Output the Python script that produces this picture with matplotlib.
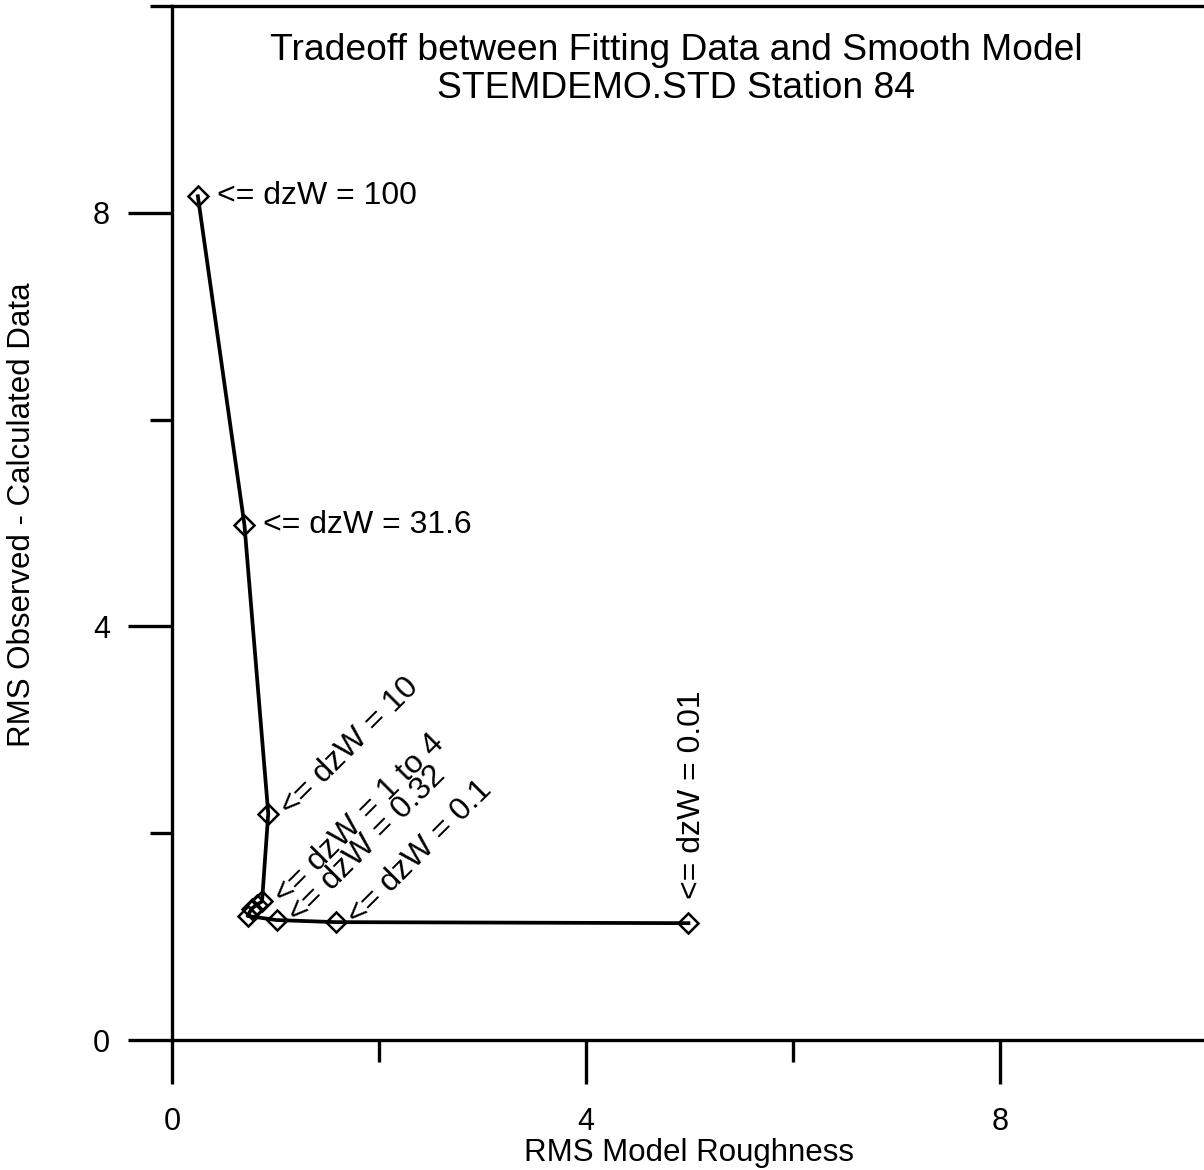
import numpy as np
import matplotlib
matplotlib.use("Agg")
import matplotlib.pyplot as plt

plt.rcParams['font.family'] = ['Liberation Sans', 'DejaVu Sans']

# roughness / misfit pairs, one per dzW value
roughness = [0.25, 0.70, 0.93, 0.87, 0.82, 0.77, 0.73, 1.01, 1.58, 4.99]
misfit    = [8.16, 4.98, 2.19, 1.34, 1.31, 1.27, 1.20, 1.16, 1.14, 1.13]

# labels: index of point, text, rotation
label_idx  = [0, 1, 2, 3, 7, 8, 9]
label_text = ['<= dzW = 100', '<= dzW = 31.6', '<= dzW = 10', '<= dzW = 1 to 4',
              '<= dzW = 0.32', '<= dzW = 0.1', '<= dzW = 0.01']
label_rot  = [0, 0, 45, 45, 45, 45, 90]

major_ticks = [0, 4, 8]
minor_ticks = [2, 6, 10]

px = 0.72  # points per pixel at dpi 100

fig = plt.figure(figsize=(12.04, 11.7), dpi=100)
ax = fig.add_axes([172/1204, 130/1170, 1035/1204, 1034/1170])

ax.plot(roughness, misfit, '-', color='black', lw=2.7, marker='D', ms=10.5,
        mfc='none', mec='black', mew=1.8, clip_on=False)

offsets = {0: (19, 0), 90: (4, 24), 45: (17, 2)}
for i, txt, rot in zip(label_idx, label_text, label_rot):
    dx, dy = offsets[rot]
    ax.annotate(txt, (roughness[i], misfit[i]), xytext=(dx*px, dy*px),
                textcoords='offset points', rotation=rot, rotation_mode='anchor',
                ha='left', va='center', fontsize=23)

ax.set_xlim(0, 10)
ax.set_ylim(0, 10)
ax.spines['right'].set_visible(False)
for s in ax.spines.values():
    s.set_linewidth(2.4)

ax.set_xticks(major_ticks)
ax.set_yticks(major_ticks)
ax.set_xticks(minor_ticks, minor=True)
ax.set_yticks(minor_ticks, minor=True)
ax.tick_params(which='major', direction='out', length=44*px, width=2.4, labelsize=22)
ax.tick_params(which='minor', direction='out', length=22*px, width=2.4)
ax.tick_params(axis='x', which='major', pad=23*px)
ax.tick_params(axis='y', which='major', pad=18*px)

fig.text(689/1204, 1 - 1153/1170, 'RMS Model Roughness', ha='center', va='center', fontsize=22.5)
fig.text(22/1204, 1 - 515/1170, 'RMS Observed - Calculated Data', ha='center', va='center',
         rotation=90, fontsize=22.5)
fig.text(676/1204, 1 - 50/1170, 'Tradeoff between Fitting Data and Smooth Model',
         ha='center', va='center', fontsize=26.8)
fig.text(676/1204, 1 - 88/1170, 'STEMDEMO.STD Station 84',
         ha='center', va='center', fontsize=26.8)

fig.savefig('out.png', dpi=100)
